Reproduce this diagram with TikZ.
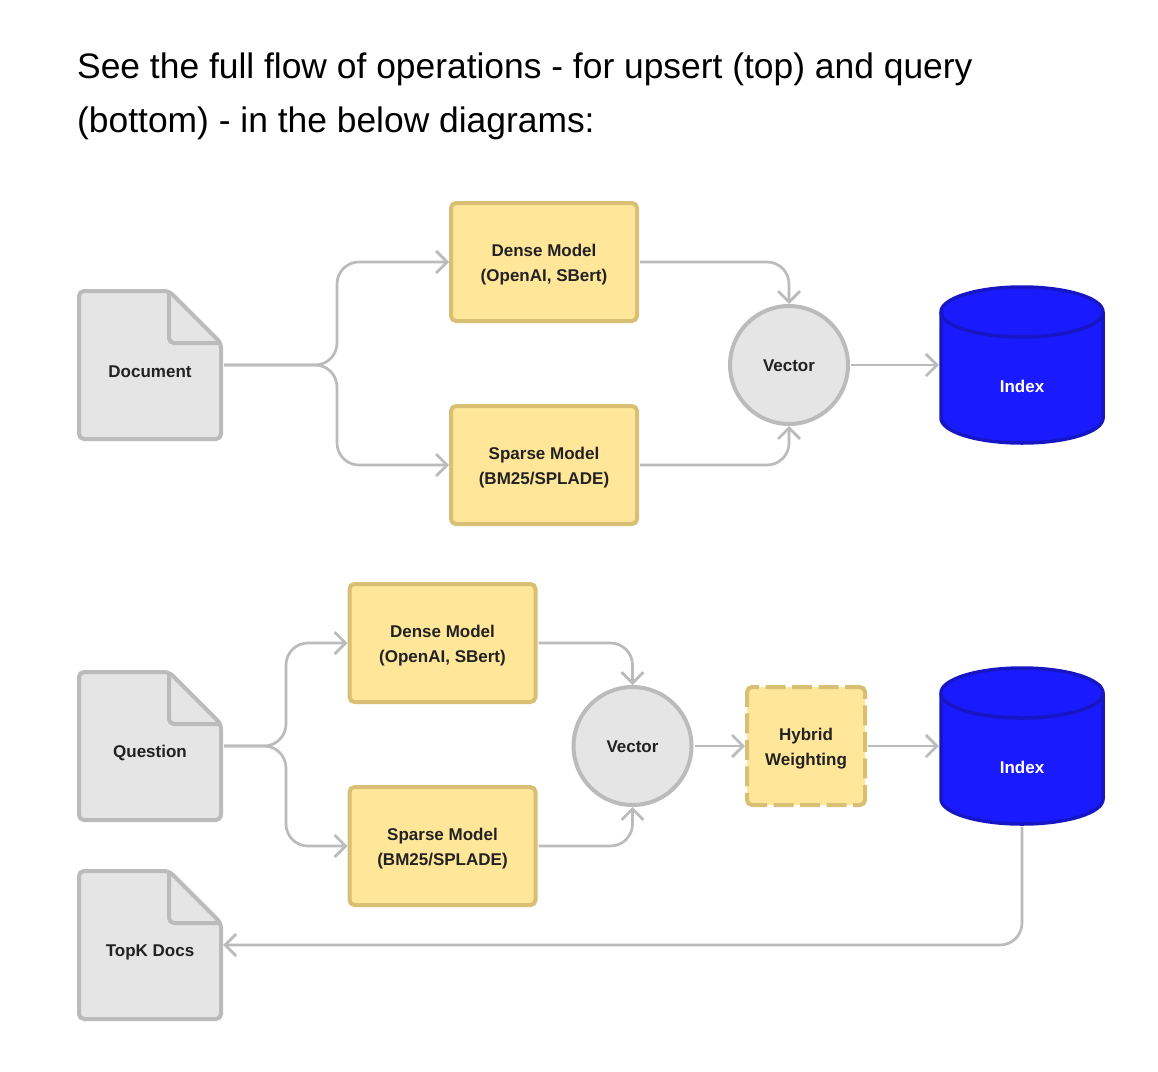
\documentclass[tikz,border=0pt]{standalone}
\usepackage{fontspec}
\setmainfont{Liberation Sans}
\usepackage{xcolor}
\usetikzlibrary{positioning,arrows.meta}

\definecolor{linegray}{HTML}{BBBBBB}
\definecolor{filegray}{HTML}{E5E5E5}
\definecolor{modelfill}{HTML}{FFE699}
\definecolor{modelline}{HTML}{D9BF74}
\definecolor{dbblue}{HTML}{1A1AFF}
\definecolor{dbline}{HTML}{1616C4}
\definecolor{inktext}{HTML}{222222}

\newcommand{\docnode}[3]{
    \begin{scope}[shift={(#2)}]
        \draw[docline, fill=filegray] (19,-74) -- (-71,-74) -- (-71,74) -- (71,74) -- (71,-22) -- cycle;
        \draw[docline] (19,-74) -- (19,-22) -- (71,-22);
        \node[docbox, label={[labeltext, yshift=-7pt]center:#3}] (#1) at (0,0) {};
    \end{scope}
}
\newcommand{\dbnode}[2]{
    \begin{scope}[shift={(#2)}]
        \draw[dbpath] (-81,-53) arc[start angle=180, end angle=0, x radius=81pt, y radius=25pt]
            -- (81,53) arc[start angle=0, end angle=-180, x radius=81pt, y radius=25pt] -- cycle;
        \draw[dbpath] (-81,-53) arc[start angle=180, end angle=360, x radius=81pt, y radius=25pt];
        \node[dbbox, label={[labeltext, text=white, yshift=-21pt]center:Index}] (#1) at (0,0) {};
    \end{scope}
}

\begin{document}
\begin{tikzpicture}[x=1pt, y=-1pt, >={Straight Barb[length=11pt, width=22pt]},
    link/.style={->, draw=linegray, line width=2.7pt, shorten <=1pt, rounded corners=22pt},
    docline/.style={draw=linegray, line width=4pt, rounded corners=5pt},
    docbox/.style={minimum width=146pt, minimum height=152pt, inner sep=0pt},
    dbpath/.style={draw=dbline, fill=dbblue, line width=3.5pt},
    dbbox/.style={minimum width=166pt, minimum height=160pt, inner sep=0pt},
    labeltext/.style={font=\fontsize{17}{25}\selectfont\bfseries, text=inktext, align=center, inner sep=0pt},
    modelbox/.style={draw=modelline, fill=modelfill, line width=4pt, rounded corners=5pt,
        minimum width=186pt, minimum height=118pt,
        label={[labeltext, yshift=-2.5pt]center:{#1}}},
    hybridbox/.style={modelbox={#1}, minimum width=118pt,
        dash pattern=on 29.8pt off 6.5pt on 20pt off 6.5pt on 20pt off 6.5pt on 20pt off 6.5pt, dash phase=15pt},
    vectornode/.style={labeltext, circle, draw=linegray, fill=filegray, line width=4pt, minimum size=118pt,
        execute at begin node={\rule{0pt}{14pt}}}]

            \useasboundingbox (0,0) rectangle (1158,1071);

            \node[anchor=north west, align=left, inner sep=0pt, text=black,
                font=\fontsize{35.4}{54}\selectfont] (heading) at (77,53)
                {See the full flow of operations - for upsert (top) and query\\(bottom) - in the below diagrams:};

            \docnode{document}{150,365}{Document}
            \node[modelbox={Dense Model\\(OpenAI, SBert)}] (dense1) at (544,262) {};
            \node[modelbox={Sparse Model\\(BM25/SPLADE)}] (sparse1) at (544,465) {};
            \node[vectornode] (vector1) at (789,365) {Vector};
            \dbnode{index1}{1022,365}
            \coordinate (fork1) at (337,365);

            \docnode{question}{150,746}{Question}
            \node[modelbox={Dense Model\\(OpenAI, SBert)}] (dense2) at (442.5,643) {};
            \node[modelbox={Sparse Model\\(BM25/SPLADE)}] (sparse2) at (442.5,846) {};
            \node[vectornode] (vector2) at (632.5,746) {Vector};
            \node[hybridbox={Hybrid\\Weighting}] (hybrid) at (806,746) {};
            \dbnode{index2}{1022,746}
            \coordinate (fork2) at (286,746);
            \docnode{topk}{150,945}{TopK Docs}

            \draw[link] (document.east) -- (fork1) |- (dense1.west);
            \draw[link] (document.east) -- (fork1) |- (sparse1.west);
            \draw[link] (dense1.east) -| (vector1.north);
            \draw[link] (sparse1.east) -| (vector1.south);
            \path[link] (vector1) edge (index1.west);

            \draw[link] (question.east) -- (fork2) |- (dense2.west);
            \draw[link] (question.east) -- (fork2) |- (sparse2.west);
            \draw[link] (dense2.east) -| (vector2.north);
            \draw[link] (sparse2.east) -| (vector2.south);
            \path[link] (vector2) edge (hybrid)
                (hybrid) edge (index2.west);
            \draw[link] (index2.south) |- (topk.east);

\end{tikzpicture}
\end{document}
